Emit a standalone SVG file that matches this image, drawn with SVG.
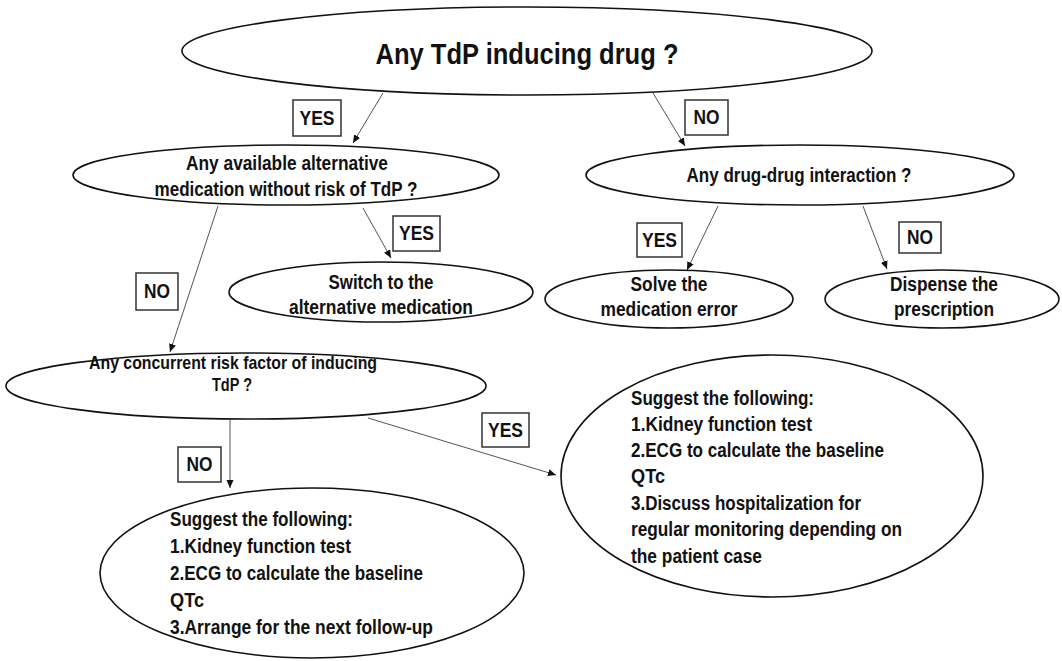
<svg xmlns="http://www.w3.org/2000/svg" width="1062" height="661" viewBox="0 0 1062 661">
<defs>
<marker id="arr" markerUnits="userSpaceOnUse" markerWidth="9" markerHeight="8" refX="8" refY="3.5" orient="auto">
<path d="M0,0 L8,3.5 L0,7 z" fill="#111"/>
</marker>
<style>
.node ellipse{fill:#fff;stroke:#111;stroke-width:1.6}
.box rect{fill:#fff;stroke:#333;stroke-width:1.5}
text{font-family:"Liberation Sans",Arial,sans-serif;font-weight:bold;fill:#111;font-size:20px}
.c{text-anchor:middle}
.conn line{stroke:#555;stroke-width:1;marker-end:url(#arr)}
</style>
</defs>
<rect width="1062" height="661" fill="#fff"/>

<g id="connectors" class="conn">
<line x1="383" y1="93" x2="353" y2="143"/>
<line x1="653" y1="93" x2="685" y2="146"/>
<line x1="363" y1="208" x2="391" y2="258"/>
<line x1="218" y1="206" x2="170" y2="352"/>
<line x1="718" y1="206" x2="687" y2="270"/>
<line x1="863" y1="206" x2="887" y2="269"/>
<line x1="230" y1="419" x2="230" y2="488"/>
<line x1="368" y1="418" x2="556" y2="475"/>
</g>

<g id="n-top" class="node">
<ellipse cx="527" cy="51" rx="345" ry="44"/>
<text class="c" x="527" y="64" style="font-size:29px" textLength="303" lengthAdjust="spacingAndGlyphs">Any TdP inducing drug ?</text>
</g>

<g id="n-alt" class="node">
<ellipse cx="286" cy="175" rx="213" ry="30"/>
<text class="c" x="287" y="170" textLength="202" lengthAdjust="spacingAndGlyphs">Any available alternative</text>
<text class="c" x="286" y="196" textLength="263" lengthAdjust="spacingAndGlyphs">medication without risk of TdP ?</text>
</g>

<g id="n-ddi" class="node">
<ellipse cx="800" cy="175" rx="214" ry="30"/>
<text class="c" x="799" y="182" textLength="225" lengthAdjust="spacingAndGlyphs">Any drug-drug interaction ?</text>
</g>

<g id="n-switch" class="node">
<ellipse cx="381" cy="292" rx="152" ry="30"/>
<text class="c" x="381" y="289" textLength="105" lengthAdjust="spacingAndGlyphs">Switch to the</text>
<text class="c" x="381" y="314" textLength="184" lengthAdjust="spacingAndGlyphs">alternative medication</text>
</g>

<g id="n-solve" class="node">
<ellipse cx="669" cy="299" rx="124" ry="29"/>
<text class="c" x="669" y="291" textLength="77" lengthAdjust="spacingAndGlyphs">Solve the</text>
<text class="c" x="669" y="316" textLength="137" lengthAdjust="spacingAndGlyphs">medication error</text>
</g>

<g id="n-dispense" class="node">
<ellipse cx="942" cy="299" rx="117" ry="29"/>
<text class="c" x="944" y="291" textLength="108" lengthAdjust="spacingAndGlyphs">Dispense the</text>
<text class="c" x="944" y="316" textLength="100" lengthAdjust="spacingAndGlyphs">prescription</text>
</g>

<g id="n-concurrent" class="node">
<ellipse cx="246" cy="386" rx="240" ry="33"/>
<text class="c" x="233" y="369" style="font-size:19px" textLength="288" lengthAdjust="spacingAndGlyphs">Any concurrent risk factor of inducing</text>
<text class="c" x="232" y="391" style="font-size:19px" textLength="40" lengthAdjust="spacingAndGlyphs">TdP ?</text>
</g>

<g id="n-followup" class="node">
<ellipse cx="312" cy="573" rx="212" ry="85"/>
<text x="170" y="526" textLength="183" lengthAdjust="spacingAndGlyphs">Suggest the following:</text>
<text x="170" y="553" textLength="181" lengthAdjust="spacingAndGlyphs">1.Kidney function test</text>
<text x="170" y="580" textLength="253" lengthAdjust="spacingAndGlyphs">2.ECG to calculate the baseline</text>
<text x="170" y="607" textLength="34" lengthAdjust="spacingAndGlyphs">QTc</text>
<text x="170" y="634" textLength="263" lengthAdjust="spacingAndGlyphs">3.Arrange for the next follow-up</text>
</g>

<g id="n-hospital" class="node">
<ellipse cx="772" cy="476" rx="211" ry="121"/>
<text x="631" y="405" textLength="183" lengthAdjust="spacingAndGlyphs">Suggest the following:</text>
<text x="631" y="431" textLength="181" lengthAdjust="spacingAndGlyphs">1.Kidney function test</text>
<text x="631" y="457" textLength="253" lengthAdjust="spacingAndGlyphs">2.ECG to calculate the baseline</text>
<text x="631" y="483" textLength="34" lengthAdjust="spacingAndGlyphs">QTc</text>
<text x="631" y="510" textLength="230" lengthAdjust="spacingAndGlyphs">3.Discuss hospitalization for</text>
<text x="631" y="536" textLength="271" lengthAdjust="spacingAndGlyphs">regular monitoring depending on</text>
<text x="631" y="563" textLength="131" lengthAdjust="spacingAndGlyphs">the patient case</text>
</g>

<g id="labels">
<g id="l-yes1" class="box"><rect x="293" y="100" width="48" height="36"/><text class="c" x="317" y="125" textLength="35" lengthAdjust="spacingAndGlyphs">YES</text></g>
<g id="l-no1" class="box"><rect x="685" y="100" width="43" height="35"/><text class="c" x="706.5" y="124" textLength="26" lengthAdjust="spacingAndGlyphs">NO</text></g>
<g id="l-yes2" class="box"><rect x="393" y="216" width="47" height="35"/><text class="c" x="416.5" y="240" textLength="35" lengthAdjust="spacingAndGlyphs">YES</text></g>
<g id="l-no2" class="box"><rect x="136" y="273" width="42" height="37"/><text class="c" x="157" y="298" textLength="26" lengthAdjust="spacingAndGlyphs">NO</text></g>
<g id="l-yes3" class="box"><rect x="637" y="223" width="45" height="34"/><text class="c" x="659.5" y="247" textLength="35" lengthAdjust="spacingAndGlyphs">YES</text></g>
<g id="l-no3" class="box"><rect x="899" y="222" width="42" height="31"/><text class="c" x="920" y="244" textLength="26" lengthAdjust="spacingAndGlyphs">NO</text></g>
<g id="l-no4" class="box"><rect x="178" y="447" width="43" height="35"/><text class="c" x="199.5" y="471" textLength="26" lengthAdjust="spacingAndGlyphs">NO</text></g>
<g id="l-yes4" class="box"><rect x="482" y="413" width="47" height="34"/><text class="c" x="505.5" y="437" textLength="35" lengthAdjust="spacingAndGlyphs">YES</text></g>
</g>
</svg>
